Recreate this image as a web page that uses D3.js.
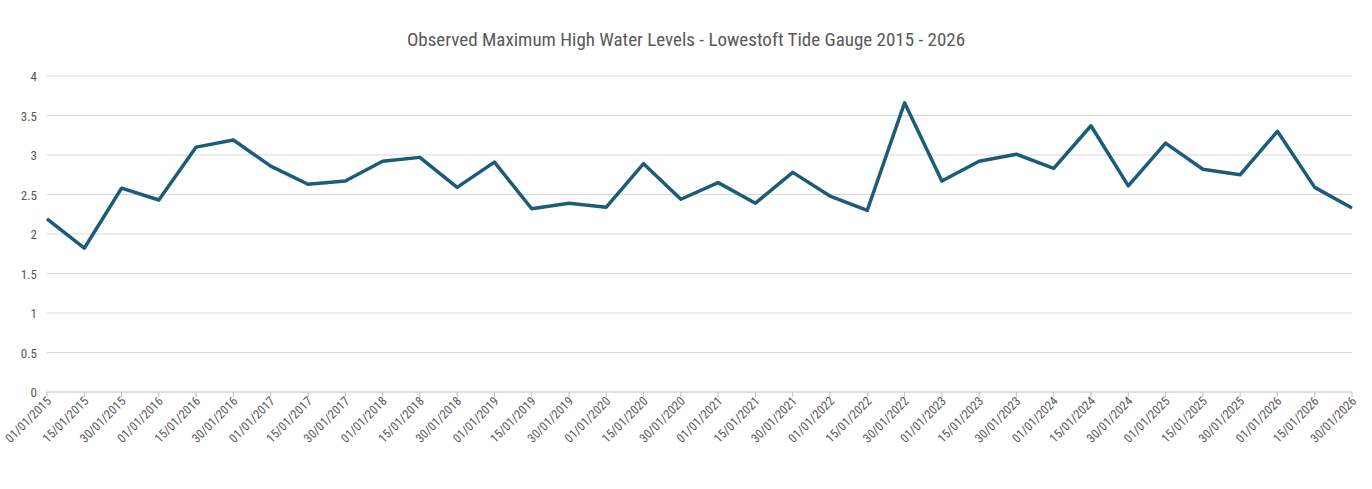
<!DOCTYPE html>
<html><head><meta charset="utf-8">
<script src="https://cdn.jsdelivr.net/npm/d3@7"></script>
<style>
body{margin:0;background:#fff;}
text{font-family:"Liberation Sans Narrow","Roboto Condensed","Liberation Sans",sans-serif;fill:#595959;}
</style></head><body>
<script>
const categories = [];
const years = d3.range(2015, 2027);
years.forEach(y => ['01', '15', '30'].forEach(d => categories.push(`${d}/01/${y}`)));
const levels = [2.19,1.82,2.58,2.43,3.10,3.19,2.86,2.63,2.67,2.92,2.97,2.59,
  2.91,2.32,2.39,2.34,2.89,2.44,2.65,2.39,2.78,2.48,2.30,3.66,
  2.67,2.92,3.01,2.83,3.37,2.61,3.15,2.82,2.75,3.30,2.59,2.33];
const yTicks = [0,0.5,1,1.5,2,2.5,3,3.5,4];

const W = 1372, H = 489, plotL = 47, plotR = 1352, plotT = 76, plotB = 392;
const svg = d3.select('body').append('svg').attr('width', W).attr('height', H);

const x = d3.scalePoint().domain(categories).range([plotL, plotR]);
const y = d3.scaleLinear().domain([0, 4]).range([plotB, plotT]);

svg.append('text').attr('x', 686).attr('y', 46).attr('text-anchor', 'middle')
  .attr('font-size', 19).text('Observed Maximum High Water Levels - Lowestoft Tide Gauge 2015 - 2026');

svg.append('g').selectAll('line').data(yTicks).enter().append('line')
  .attr('x1', plotL).attr('x2', plotR).attr('y1', d => y(d)).attr('y2', d => y(d))
  .attr('stroke', d => d === 0 ? '#bfbfbf' : '#d9d9d9').attr('stroke-width', 1);

svg.append('g').selectAll('text').data(yTicks).enter().append('text')
  .attr('x', 37).attr('y', d => y(d) + 5).attr('text-anchor', 'end')
  .attr('font-size', 13).text(d => d);

svg.append('g').selectAll('line').data(categories).enter().append('line')
  .attr('x1', d => x(d)).attr('x2', d => x(d)).attr('y1', plotB).attr('y2', plotB + 5)
  .attr('stroke', '#bfbfbf');

svg.append('g').selectAll('text').data(categories).enter().append('text')
  .attr('text-anchor', 'end').attr('font-size', 12.5)
  .attr('transform', d => `translate(${x(d) + 5},${plotB + 10}) rotate(-45)`)
  .text(d => d);

const line = d3.line().x((d, i) => x(categories[i])).y(d => y(d));
svg.append('path').datum(levels).attr('d', line).attr('fill', 'none')
  .attr('stroke', '#1a5c7a').attr('stroke-width', 3.5).attr('stroke-linejoin', 'round');
</script></body></html>
